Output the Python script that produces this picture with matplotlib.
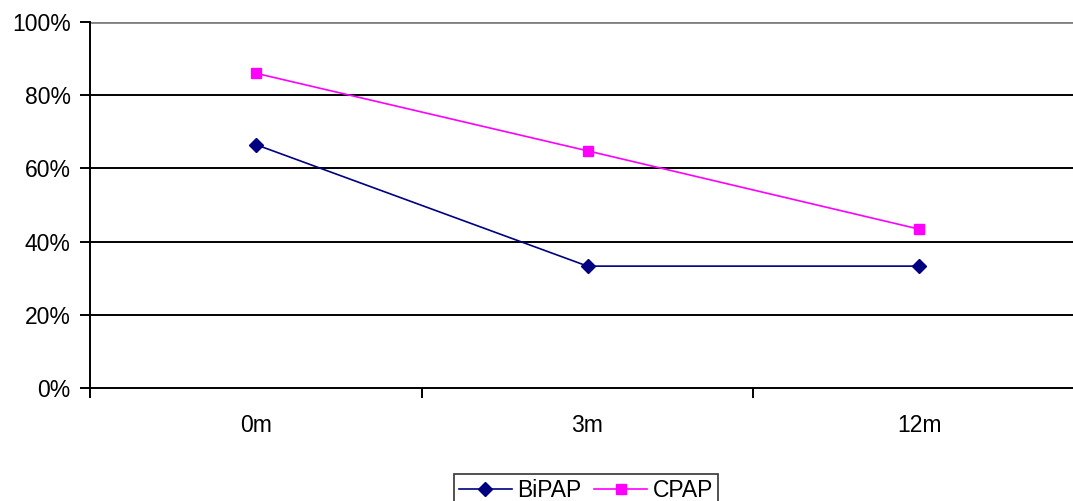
import matplotlib
matplotlib.use("Agg")
import matplotlib.pyplot as plt
from matplotlib.ticker import FuncFormatter

categories = ["0m", "3m", "12m"]
bipap = [66.5, 33.3, 33.3]
cpap = [86.0, 64.8, 43.4]
yticks = [0, 20, 40, 60, 80, 100]

plt.rcParams['font.family'] = ['Liberation Sans', 'DejaVu Sans']

W, H = 1073, 501
FS = 16.5
fig = plt.figure(figsize=(W / 100, H / 100), dpi=100)
ax = fig.add_axes([90 / W, (H - 388) / H, 995 / W, 366 / H])

x = list(range(len(categories)))
l1, = ax.plot(x, bipap, color="#000080", lw=1.2, marker="D", markersize=7.5,
              markeredgecolor="#000080", markerfacecolor="#000080", label="BiPAP", zorder=3)
l2, = ax.plot(x, cpap, color="#FF00FF", lw=1.2, marker="s", markersize=7.5,
              markeredgecolor="#FF00FF", markerfacecolor="#FF00FF", label="CPAP", zorder=3)

for v in yticks[1:]:
    ax.axhline(v, color="#808080" if v == 100 else "black",
               lw=2.0 if v == 100 else 1.4, zorder=1)

ax.set_xlim(-0.5, len(categories) - 0.5)
ax.set_ylim(0, 100)
ax.set_yticks(yticks)
ax.yaxis.set_major_formatter(FuncFormatter(lambda v, p: f"{int(v)}%"))
ax.set_xticks(x)
ax.set_xticklabels(categories)
ax.set_xticks([i - 0.5 for i in range(len(categories) + 1)], minor=True)
ax.tick_params(axis="x", which="major", length=0, pad=19, labelsize=FS)
ax.tick_params(axis="x", which="minor", length=7, width=1.4, direction="out", color="black")
ax.tick_params(axis="y", length=7, width=1.4, pad=7, labelsize=FS)

for s in ["top", "right"]:
    ax.spines[s].set_visible(False)
ax.spines["left"].set_linewidth(1.4)
ax.spines["bottom"].set_linewidth(1.4)

leg = fig.legend(handles=[l1, l2], loc="upper center", bbox_to_anchor=(586 / W, (H - 474) / H),
                 ncol=2, frameon=True, fancybox=False, edgecolor="black", fontsize=FS,
                 handlelength=2.3, columnspacing=0.55, handletextpad=0.25, borderpad=0.2,
                 borderaxespad=0.0)
leg.get_frame().set_linewidth(1.2)

fig.savefig("out.png", dpi=100)
